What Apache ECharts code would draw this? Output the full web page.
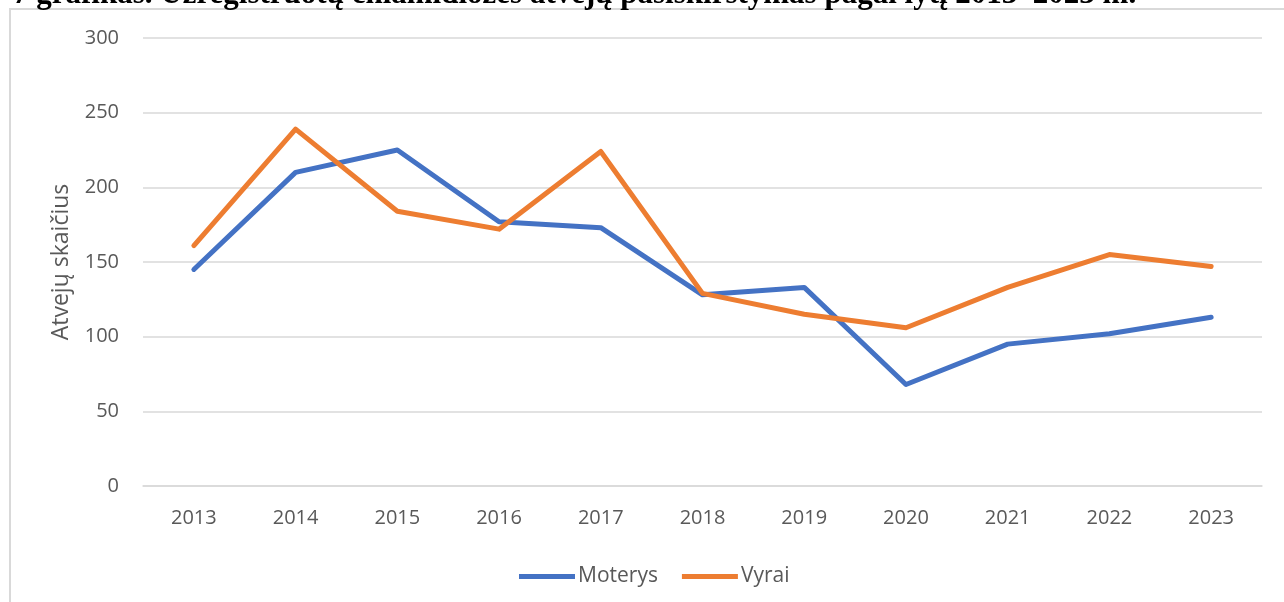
<!DOCTYPE html>
<html>
<head>
<meta charset="utf-8">
<script src="https://cdn.jsdelivr.net/npm/echarts@6/dist/echarts.min.js"></script>
<style>
html,body{margin:0;padding:0;background:#fff;}
#c{width:1284px;height:602px;}
</style>
</head>
<body>
<div id="c"></div>
<script>
const titleText = '7 grafikas. Užregistruotų chlamidiozės atvejų pasiskirstymas pagal lytį 2013–2023 m.';
const years = ['2013','2014','2015','2016','2017','2018','2019','2020','2021','2022','2023'];
const moterys = [145, 210, 225, 177, 173, 128, 133, 68, 95, 102, 113];
const vyrai = [161, 239, 184, 172, 224, 129, 115, 106, 133, 155, 147];
const seriesNames = ['Moterys', 'Vyrai'];
const yAxisName = 'Atvejų skaičius';

const chart = echarts.init(document.getElementById('c'), null, {renderer: 'canvas'});
const labelColor = '#595959';
const font = '"Open Sans", sans-serif';
chart.setOption({
  animation: false,
  backgroundColor: '#fff',
  graphic: [
    {type: 'text', left: 13, top: -21, z: 0, zlevel: 0,
      style: {text: titleText, font: 'bold 31px "Liberation Serif", serif', fill: '#000'}},
    {type: 'rect', shape: {x: 10, y: 9, width: 1400, height: 700}, z: -1, zlevel: 0, silent: true,
      style: {fill: '#fff', stroke: '#d9d9d9', lineWidth: 2}}
  ],
  grid: {left: 143, right: 22, top: 38, bottom: 116, containLabel: false},
  legend: {
    bottom: 15, left: 519, padding: 0, itemWidth: 56, itemHeight: 5, itemGap: 24,
    icon: 'path://M0,0 L56,0 L56,5 L0,5 Z',
    textStyle: {color: labelColor, fontFamily: font, fontSize: 21, padding: [0,0,0,-2]},
    data: seriesNames
  },
  xAxis: {
    type: 'category', data: years, boundaryGap: true,
    axisLine: {show: true, lineStyle: {color: '#d9d9d9', width: 1.5}},
    axisTick: {show: false},
    axisLabel: {color: labelColor, fontFamily: font, fontSize: 20, margin: 22}
  },
  yAxis: {
    type: 'value', min: 0, max: 300, interval: 50,
    name: yAxisName, nameLocation: 'middle', nameGap: 70, nameRotate: 90,
    nameTextStyle: {color: labelColor, fontFamily: font, fontSize: 23},
    axisLine: {show: false}, axisTick: {show: false},
    axisLabel: {color: labelColor, fontFamily: font, fontSize: 20, margin: 24},
    splitLine: {lineStyle: {color: '#d9d9d9', width: 1.5}}
  },
  series: [
    {name: seriesNames[0], type: 'line', data: moterys, symbol: 'none', z: 3,
      lineStyle: {color: '#4472C4', width: 5, cap: 'round', join: 'round'}, itemStyle: {color: '#4472C4'}},
    {name: seriesNames[1], type: 'line', data: vyrai, symbol: 'none', z: 4,
      lineStyle: {color: '#ED7D31', width: 5, cap: 'round', join: 'round'}, itemStyle: {color: '#ED7D31'}}
  ]
});
</script>
</body>
</html>
